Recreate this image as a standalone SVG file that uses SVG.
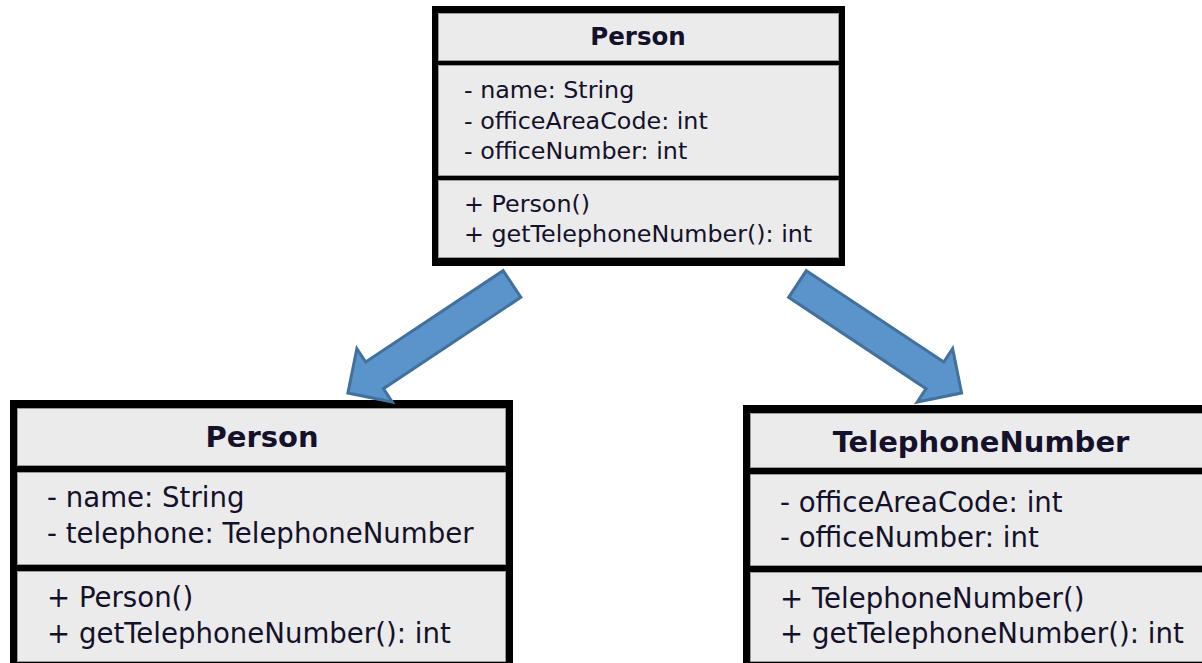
<svg xmlns="http://www.w3.org/2000/svg" width="1202" height="663" viewBox="0 0 1202 663">
<defs>
<style>
.frame{fill:#000}
.comp{fill:#ebebeb;stroke:#9a9a9a;stroke-width:1}
.t{font-family:"DejaVu Sans",Verdana,sans-serif;fill:#14112a}
.title{font-weight:bold;text-anchor:middle}
.s1{font-size:23.8px}
.s1b{font-size:24.5px}
.s2{font-size:27.6px}
.s2b{font-size:29px}
.arrow{fill:#5b93cb;stroke:#41719c;stroke-width:3;stroke-linejoin:miter}
</style>
</defs>
<rect width="1202" height="663" fill="#fff"/>
<g id="person-top">
<rect class="frame" x="432" y="6" width="413" height="260"/>
<rect class="comp" x="438.5" y="13.5" width="400" height="47"/>
<rect class="comp" x="438.5" y="65.5" width="400" height="110"/>
<rect class="comp" x="438.5" y="180.5" width="400" height="77"/>
<text class="t title s1b" x="638" y="45">Person</text>
<text class="t s1" x="464" y="98">- name: String</text>
<text class="t s1" x="464" y="129">- officeAreaCode: int</text>
<text class="t s1" x="464" y="159">- officeNumber: int</text>
<text class="t s1" x="464" y="212">+ Person()</text>
<text class="t s1" x="464" y="242">+ getTelephoneNumber(): int</text>
</g>
<g id="person-bottom">
<rect class="frame" x="10" y="400" width="503" height="280"/>
<rect class="comp" x="17.5" y="408.5" width="488" height="57"/>
<rect class="comp" x="17.5" y="472.5" width="488" height="92"/>
<rect class="comp" x="17.5" y="571.5" width="488" height="90"/>
<text class="t title s2b" x="262" y="447">Person</text>
<text class="t s2" x="47" y="507">- name: String</text>
<text class="t s2" x="47" y="543">- telephone: TelephoneNumber</text>
<text class="t s2" x="47" y="607">+ Person()</text>
<text class="t s2" x="47" y="643">+ getTelephoneNumber(): int</text>
</g>
<g id="telephone-number">
<rect class="frame" x="743" y="405" width="480" height="280"/>
<rect class="comp" x="750.5" y="413.5" width="470" height="54"/>
<rect class="comp" x="750.5" y="474.5" width="470" height="91"/>
<rect class="comp" x="750.5" y="572.5" width="470" height="89"/>
<text class="t title s2b" x="981" y="452">TelephoneNumber</text>
<text class="t s2" x="780" y="512">- officeAreaCode: int</text>
<text class="t s2" x="780" y="547">- officeNumber: int</text>
<text class="t s2" x="780" y="608">+ TelephoneNumber()</text>
<text class="t s2" x="780" y="643">+ getTelephoneNumber(): int</text>
</g>
<g id="connectors">
<polygon class="arrow" transform="translate(512,284) rotate(146.4)" points="0,-16 165,-16 165,-32 197,0 165,32 165,16 0,16"/>
<polygon class="arrow" transform="translate(797.5,284) rotate(33.6)" points="0,-16 165,-16 165,-32 197,0 165,32 165,16 0,16"/>
</g>
</svg>
